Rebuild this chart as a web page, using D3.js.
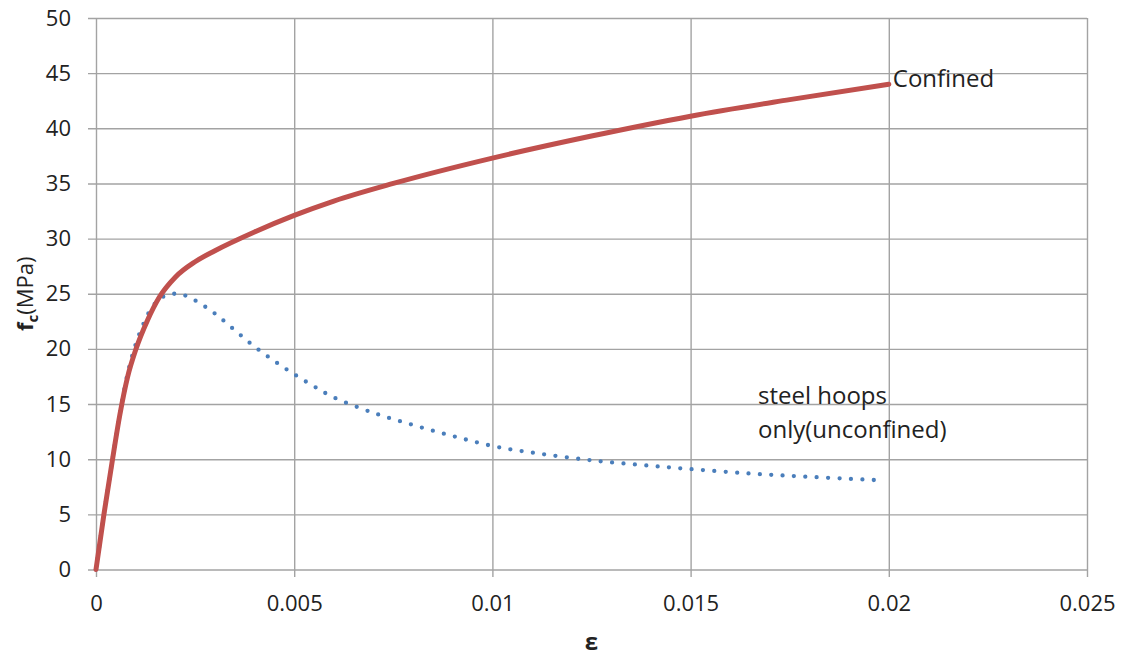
<!DOCTYPE html>
<html>
<head>
<meta charset="utf-8">
<script src="https://cdn.jsdelivr.net/npm/d3@7"></script>
<style>
  html, body { margin: 0; padding: 0; background: #fff; }
  svg { display: block; font-family: "Open Sans", "Noto Sans", sans-serif; }
</style>
</head>
<body>
<svg id="chart" width="1127" height="657"></svg>
<script>
// Stress–strain data for concrete: confined vs. steel hoops only
const confinedStrain = [0, 0.0002, 0.0004, 0.0006, 0.0008, 0.001, 0.0013, 0.0016, 0.002, 0.0025,
  0.003, 0.004, 0.005, 0.006, 0.0075, 0.01, 0.0125, 0.015, 0.0175, 0.02];
const confinedStress = [0, 5.0, 9.6, 14.0, 17.5, 19.9, 22.6, 24.7, 26.5, 27.9,
  28.9, 30.6, 32.1, 33.4, 35.0, 37.3, 39.3, 41.1, 42.6, 44.0];

const unconfinedStrain = [0, 0.0002, 0.0004, 0.0006, 0.0008, 0.001, 0.0012, 0.0014, 0.0016, 0.0018,
  0.002, 0.0022, 0.0025, 0.003, 0.0035, 0.004, 0.0045, 0.005, 0.0055, 0.006,
  0.007, 0.008, 0.009, 0.01, 0.011, 0.0125, 0.014, 0.015, 0.0165, 0.018, 0.0197];
const unconfinedStress = [0, 5.0, 9.6, 14.1, 17.8, 20.4, 22.3, 23.7, 24.5, 24.9,
  25.0, 24.9, 24.4, 23.2, 21.7, 20.2, 18.9, 17.7, 16.6, 15.6,
  14.2, 13.1, 12.1, 11.2, 10.6, 9.9, 9.4, 9.1, 8.7, 8.4, 8.1];

const xTickValues = [0, 0.005, 0.01, 0.015, 0.02, 0.025];
const xTickLabels = ["0", "0.005", "0.01", "0.015", "0.02", "0.025"];
const yTickValues = [0, 5, 10, 15, 20, 25, 30, 35, 40, 45, 50];
const yTickLabels = ["0", "5", "10", "15", "20", "25", "30", "35", "40", "45", "50"];

const seriesLabels = { confined: "Confined", unconfined: ["steel hoops", "only(unconfined)"] };

const svg = d3.select("#chart");
const plot = { left: 96, right: 1087, top: 18, bottom: 569.5 };
const gridColor = "#a3a3a3";
const textColor = "#222";

const x = d3.scaleLinear().domain([0, 0.025]).range([plot.left, plot.right]);
const y = d3.scaleLinear().domain([0, 50]).range([plot.bottom, plot.top]);

// Horizontal gridlines with short tick stubs left of the plot
const yAxis = d3.axisLeft(y)
  .tickValues(yTickValues)
  .tickFormat((d, i) => yTickLabels[i])
  .tickSize(-(plot.right - plot.left + 8))
  .tickPadding(17);
const gy = svg.append("g").attr("transform", `translate(${plot.left - 8},0)`).call(yAxis);
gy.select(".domain").remove();
gy.selectAll(".tick line").attr("stroke", gridColor).attr("stroke-width", 1.4);
gy.selectAll(".tick text").attr("fill", textColor).style("font-size", "22px")
  .style("font-family", "'Open Sans', sans-serif");

// Vertical gridlines with stubs below the plot
const xAxis = d3.axisBottom(x)
  .tickValues(xTickValues)
  .tickFormat((d, i) => xTickLabels[i])
  .tickSize(-(plot.bottom + 7.5 - plot.top))
  .tickPadding(18);
const gx = svg.append("g").attr("transform", `translate(0,${plot.bottom + 7.5})`).call(xAxis);
gx.select(".domain").remove();
gx.selectAll(".tick line").attr("stroke", gridColor).attr("stroke-width", 1.4);
gx.selectAll(".tick text").attr("fill", textColor).style("font-size", "22px")
  .style("font-family", "'Open Sans', sans-serif");

const confinedLine = d3.line()
  .x(d => x(d[0]))
  .y(d => y(d[1]))
  .curve(d3.curveMonotoneX);

const unconfinedLine = d3.line()
  .x(d => x(d[0]))
  .y(d => y(d[1]))
  .curve(d3.curveCatmullRom.alpha(0.5));

const unconfined = unconfinedStrain.map((e, i) => [e, unconfinedStress[i]]);
const confined = confinedStrain.map((e, i) => [e, confinedStress[i]]);

// Unconfined: round-dot line
svg.append("path")
  .datum(unconfined)
  .attr("d", unconfinedLine)
  .attr("fill", "none")
  .attr("stroke", "#4a7ebb")
  .attr("stroke-width", 4.3)
  .attr("stroke-linecap", "round")
  .attr("stroke-dasharray", "0 11.4");

// Confined: solid red line
svg.append("path")
  .datum(confined)
  .attr("d", confinedLine)
  .attr("fill", "none")
  .attr("stroke", "#c0504d")
  .attr("stroke-width", 5)
  .attr("stroke-linecap", "round");

// Series labels
const lastC = confined[confined.length - 1];
svg.append("text")
  .attr("x", x(lastC[0]) + 4)
  .attr("y", y(lastC[1]) + 3)
  .attr("fill", textColor)
  .style("font-size", "24px")
  .text(seriesLabels.confined);

const lastU = unconfined[unconfined.length - 1];
const uLabel = svg.append("text")
  .attr("fill", textColor)
  .style("font-size", "24px");
seriesLabels.unconfined.forEach((t, i) => {
  uLabel.append("tspan")
    .attr("x", x(0.0167))
    .attr("y", y(lastU[1]) - 76 + i * 33.5)
    .text(t);
});

// Axis titles
const yTitle = svg.append("text")
  .attr("transform", `translate(33,${(plot.top + plot.bottom) / 2}) rotate(-90)`)
  .attr("text-anchor", "middle")
  .attr("fill", textColor)
  .style("font-size", "22px");
yTitle.append("tspan").style("font-weight", "bold").text("f");
yTitle.append("tspan").style("font-weight", "bold").style("font-size", "15px").attr("dy", 5).text("c");
yTitle.append("tspan").attr("dy", -5).text("(MPa)");

svg.append("text")
  .attr("x", (plot.left + plot.right) / 2)
  .attr("y", 650)
  .attr("text-anchor", "middle")
  .attr("fill", textColor)
  .style("font-size", "24px")
  .style("font-weight", "bold")
  .text("ε");
</script>
</body>
</html>
